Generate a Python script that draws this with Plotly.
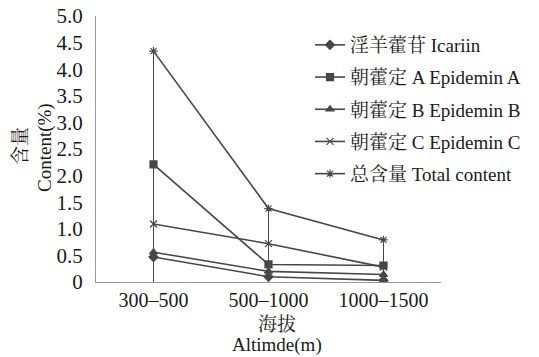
import plotly.graph_objects as go

categories = ["300–500", "500–1000", "1000–1500"]
icariin = [0.47, 0.10, 0.03]
epidemin_a = [2.21, 0.33, 0.31]
epidemin_b = [0.56, 0.20, 0.14]
epidemin_c = [1.09, 0.72, 0.28]
total = [4.34, 1.38, 0.79]

names = ["淫羊藿苷 Icariin", "朝藿定 A Epidemin A", "朝藿定 B Epidemin B",
         "朝藿定 C Epidemin C", "总含量 Total content"]
symbols = ["diamond", "square", "triangle-up", "x-thin", "asterisk-open"]
series = [icariin, epidemin_a, epidemin_b, epidemin_c, total]
yticks = [0, 0.5, 1, 1.5, 2, 2.5, 3, 3.5, 4, 4.5, 5]
yticklabels = ["0", "0.5", "1.0", "1.5", "2.0", "2.5", "3.0", "3.5", "4.0", "4.5", "5.0"]

FONT = "Liberation Serif, 'Noto Serif CJK SC', 'Noto Sans CJK SC', serif"
LC = "#474747"
TC = "#1a1a1a"

fig = go.Figure()

# drop lines from 0 up to total content
dx, dy = [], []
for c, t in zip(categories, total):
    dx += [c, c, None]
    dy += [0, t, None]
fig.add_trace(go.Scatter(x=dx, y=dy, mode="lines", line=dict(color=LC, width=1),
                         showlegend=False, hoverinfo="skip"))

for i, (n, s, v) in enumerate(zip(names, symbols, series)):
    fig.add_trace(go.Scatter(
        x=categories, y=v, name=n, mode="lines+markers", legendgroup=f"g{i}",
        line=dict(color=LC, width=1.6),
        marker=dict(symbol=s, size=7, color=LC, line=dict(color=LC, width=1.2)),
    ))

L, R, T, B = 96, 98, 16, 75
W, H = 539, 357
pw = W - L - R
ph = H - T - B

def px_x(p):
    return (p - L) / pw

def px_y(p):
    return (H - B - p) / ph

fig.update_layout(
    width=W, height=H,
    margin=dict(l=L, r=R, t=T, b=B),
    paper_bgcolor="white", plot_bgcolor="white",
    font=dict(family=FONT, size=17, color=TC),
    showlegend=True,
    legend=dict(x=px_x(310), y=px_y(26), xanchor="left", yanchor="top",
                bgcolor="rgba(0,0,0,0)", font=dict(size=19, family=FONT, color=TC),
                itemwidth=30, tracegroupgap=4.5),
    xaxis=dict(type="category", range=[-0.5, 2.5], showgrid=False, showline=True,
               linecolor="#999", linewidth=1, ticks="", zeroline=False,
               tickfont=dict(size=20), automargin=False, ticklabelstandoff=0),
    yaxis=dict(range=[0, 5], tickvals=yticks, ticktext=yticklabels,
               showgrid=False, showline=True, linecolor="#999", linewidth=1,
               ticks="", zeroline=False, tickfont=dict(size=21), automargin=False,
               ticklabelstandoff=8),
    annotations=[
        dict(text="海拔", x=px_x(277), y=px_y(324), xref="paper", yref="paper",
             showarrow=False, font=dict(size=19), xanchor="center", yanchor="middle"),
        dict(text="Altimde(m)", x=px_x(277), y=px_y(345), xref="paper", yref="paper",
             showarrow=False, font=dict(size=19), xanchor="center", yanchor="middle"),
        dict(text="含量", x=px_x(20), y=px_y(146), xref="paper", yref="paper",
             showarrow=False, font=dict(size=19), textangle=-90,
             xanchor="center", yanchor="middle"),
        dict(text="Content(%)", x=px_x(45), y=px_y(148), xref="paper", yref="paper",
             showarrow=False, font=dict(size=19), textangle=-90,
             xanchor="center", yanchor="middle"),
    ],
)

fig.write_html("out.html", config={"displayModeBar": False},
               post_script="document.body.style.margin='0';document.body.style.overflow='hidden';")
